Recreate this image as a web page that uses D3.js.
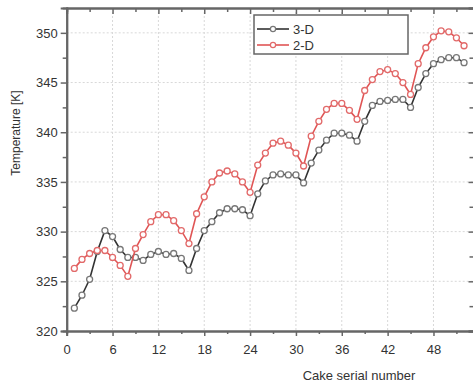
<!DOCTYPE html>
<html>
<head>
<meta charset="utf-8">
<script src="https://cdnjs.cloudflare.com/ajax/libs/d3/7.8.5/d3.min.js"></script>
<style>
  body { margin: 0; background: #fff; }
  svg text { font-family: "Liberation Sans", Arial, sans-serif; fill: #333; }
</style>
</head>
<body>
<div id="graph"></div>
<script>
// cake serial numbers 1..52
var cakes = d3.range(1, 53);

// 3-D model temperatures [K]
var temp3D = [322.3, 323.6, 325.2, 328.0, 330.1, 329.5, 328.2, 327.4, 327.4, 327.1,
              327.7, 328.0, 327.7, 327.8, 327.3, 326.1, 328.3, 330.1, 331.0, 331.9,
              332.3, 332.3, 332.2, 331.6, 333.8, 335.1, 335.7, 335.8, 335.7, 335.7,
              334.9, 336.9, 338.2, 339.2, 339.9, 339.9, 339.7, 339.1, 341.1, 342.7,
              343.1, 343.2, 343.3, 343.3, 342.5, 344.5, 345.9, 346.9, 347.3, 347.5,
              347.5, 347.0];

// 2-D model temperatures [K]
var temp2D = [326.3, 327.2, 327.8, 328.1, 328.1, 327.4, 326.6, 325.5, 328.3, 329.7,
              331.0, 331.7, 331.7, 331.1, 330.1, 328.8, 331.8, 333.5, 335.0, 335.9,
              336.1, 335.8, 335.0, 333.95, 336.7, 337.9, 338.9, 339.1, 338.7, 337.9,
              336.6, 339.6, 341.1, 342.3, 342.9, 342.9, 342.2, 341.3, 344.2, 345.3,
              346.1, 346.3, 345.9, 345.0, 343.8, 346.9, 348.5, 349.6, 350.2, 350.1,
              349.5, 348.7];

var xTicks = [0, 6, 12, 18, 24, 30, 36, 42, 48];
var xMinor = [3, 9, 15, 21, 27, 33, 39, 45, 51];
var yTicks = [320, 325, 330, 335, 340, 345, 350];
var yMinor = [322.5, 327.5, 332.5, 337.5, 342.5, 347.5];

var seriesNames = ["3-D", "2-D"];

window.onload = start;

function start() {
    var width = 473;
    var height = 387;

    var svg = d3.select("#graph")
        .append("svg")
        .attr("width", width)
        .attr("height", height);

    // plot area (the right edge of the original figure is cut off)
    var left = 66.7, right = 475.5, top = 8, bottom = 331;

    var x = d3.scaleLinear().domain([0, 53.5]).range([left, right]);
    var y = d3.scaleLinear().domain([320, 352.5]).range([bottom, top]);

    // dotted grid
    var grid = svg.append("g");
    grid.selectAll("line.gx")
        .data(xTicks.slice(1))
        .enter().append("line")
        .attr("x1", d => x(d)).attr("x2", d => x(d))
        .attr("y1", top).attr("y2", bottom)
        .attr("stroke", "#d8d8d8").attr("stroke-dasharray", "2,2");
    grid.selectAll("line.gy")
        .data(yTicks.slice(1))
        .enter().append("line")
        .attr("x1", left).attr("x2", right)
        .attr("y1", d => y(d)).attr("y2", d => y(d))
        .attr("stroke", "#d8d8d8").attr("stroke-dasharray", "2,2");

    // axes
    function styleAxis(g) {
        g.selectAll("path").attr("stroke", "#666").attr("stroke-width", 2);
        g.selectAll("line").attr("stroke", "#666").attr("stroke-width", 1.5);
        g.selectAll("text").attr("font-size", 13).attr("fill", "#333")
            .style("font-family", "'Liberation Sans', Arial, sans-serif");
    }

    // minor ticks first
    svg.append("g").attr("transform", "translate(0," + bottom + ")")
        .call(d3.axisBottom(x).tickValues(xMinor).tickSize(3).tickFormat(""))
        .call(styleAxis);
    svg.append("g").attr("transform", "translate(0," + top + ")")
        .call(d3.axisBottom(x).tickValues(xMinor).tickSize(4).tickFormat(""))
        .call(styleAxis);
    svg.append("g").attr("transform", "translate(" + left + ",0)")
        .call(d3.axisLeft(y).tickValues(yMinor).tickSize(4).tickFormat(""))
        .call(styleAxis);
    svg.append("g").attr("transform", "translate(" + right + ",0)")
        .call(d3.axisLeft(y).tickValues(yMinor).tickSize(6).tickFormat(""))
        .call(styleAxis);

    svg.append("g").attr("transform", "translate(0," + bottom + ")")
        .call(d3.axisBottom(x).tickValues(xTicks).tickSize(5).tickPadding(9))
        .call(styleAxis);
    svg.append("g").attr("transform", "translate(0," + top + ")")
        .call(d3.axisBottom(x).tickValues(xTicks).tickSize(6).tickFormat(""))
        .call(styleAxis);
    svg.append("g").attr("transform", "translate(" + left + ",0)")
        .call(d3.axisLeft(y).tickValues(yTicks).tickSize(6).tickPadding(3))
        .call(styleAxis);
    svg.append("g").attr("transform", "translate(" + right + ",0)")
        .call(d3.axisLeft(y).tickValues(yTicks).tickSize(7).tickFormat(""))
        .call(styleAxis);

    // axis titles
    svg.append("text")
        .attr("x", 359).attr("y", 380)
        .attr("text-anchor", "middle")
        .attr("font-size", 13)
        .text("Cake serial number");
    svg.append("text")
        .attr("transform", "translate(20,133) rotate(-90)")
        .attr("text-anchor", "middle")
        .attr("font-size", 12)
        .text("Temperature [K]");

    // series
    var series = [
        {name: seriesNames[0], values: temp3D, line: "#333", marker: "#777"},
        {name: seriesNames[1], values: temp2D, line: "#e05555", marker: "#e26a6a"}
    ];

    var line = d3.line()
        .x((d, i) => x(cakes[i]))
        .y(d => y(d));

    series.forEach(function (s) {
        var g = svg.append("g");
        g.append("path")
            .attr("d", line(s.values))
            .attr("fill", "none")
            .attr("stroke", s.line)
            .attr("stroke-width", 1.6);
        g.selectAll("circle")
            .data(s.values)
            .enter().append("circle")
            .attr("cx", (d, i) => x(cakes[i]))
            .attr("cy", d => y(d))
            .attr("r", 3)
            .attr("fill", "#fff")
            .attr("stroke", s.marker)
            .attr("stroke-width", 1.3);
    });

    // legend
    var legend = svg.append("g");
    legend.append("rect")
        .attr("x", 254).attr("y", 15)
        .attr("width", 154).attr("height", 39)
        .attr("fill", "#fff")
        .attr("stroke", "#666")
        .attr("stroke-width", 1.5);
    series.forEach(function (s, i) {
        var ly = 29 + i * 16;
        legend.append("line")
            .attr("x1", 257).attr("x2", 289)
            .attr("y1", ly).attr("y2", ly)
            .attr("stroke", s.line).attr("stroke-width", 1.6);
        legend.append("circle")
            .attr("cx", 273).attr("cy", ly).attr("r", 2.6)
            .attr("fill", "#fff").attr("stroke", s.marker).attr("stroke-width", 1.2);
        legend.append("text")
            .attr("x", 293).attr("y", ly + 4.5)
            .attr("font-size", 13)
            .text(s.name);
    });
}
</script>
</body>
</html>
